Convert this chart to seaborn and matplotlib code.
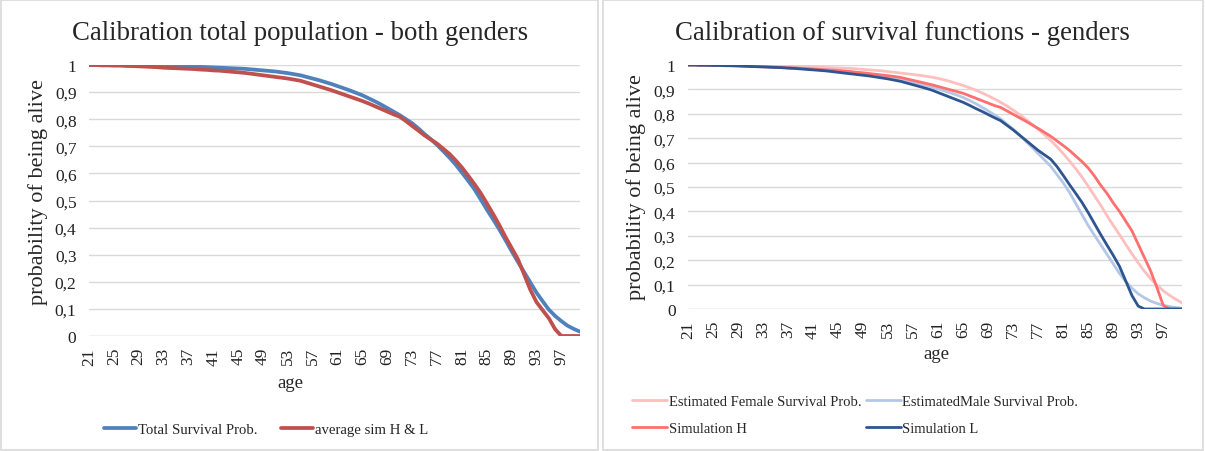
import seaborn as sns
import matplotlib.pyplot as plt
import pandas as pd
from matplotlib.patches import Rectangle

# ages 21..100
ages = list(range(21, 101))

# left chart: total population
total_surv = [
    1.000, 1.000, 0.999, 0.999, 0.999, 0.999, 0.998, 0.998, 0.998, 0.997,
    0.997, 0.996, 0.996, 0.995, 0.995, 0.994, 0.994, 0.993, 0.993, 0.992,
    0.991, 0.990, 0.989, 0.988, 0.987, 0.986, 0.984, 0.982, 0.980, 0.978,
    0.976, 0.973, 0.970, 0.966, 0.962, 0.956, 0.950, 0.944, 0.937, 0.930,
    0.922, 0.914, 0.906, 0.897, 0.888, 0.877, 0.866, 0.854, 0.841, 0.828,
    0.815, 0.800, 0.785, 0.766, 0.745, 0.726, 0.705, 0.682, 0.658, 0.632,
    0.603, 0.573, 0.542, 0.505, 0.467, 0.431, 0.394, 0.354, 0.313, 0.274,
    0.236, 0.198, 0.160, 0.128, 0.097, 0.074, 0.055, 0.038, 0.026, 0.016]
avg_sim = [
    1.000, 1.000, 0.999, 0.999, 0.998, 0.998, 0.997, 0.996, 0.995, 0.994,
    0.993, 0.992, 0.990, 0.989, 0.988, 0.987, 0.986, 0.985, 0.983, 0.982,
    0.980, 0.979, 0.977, 0.975, 0.973, 0.971, 0.968, 0.965, 0.962, 0.959,
    0.956, 0.953, 0.950, 0.946, 0.942, 0.935, 0.928, 0.921, 0.914, 0.907,
    0.899, 0.891, 0.883, 0.875, 0.867, 0.858, 0.848, 0.838, 0.828, 0.818,
    0.809, 0.793, 0.775, 0.758, 0.740, 0.725, 0.710, 0.691, 0.672, 0.648,
    0.622, 0.592, 0.561, 0.528, 0.490, 0.451, 0.410, 0.366, 0.325, 0.284,
    0.228, 0.171, 0.125, 0.095, 0.065, 0.025, 0.000, 0.000, 0.000, 0.000]

# right chart: genders
female_est = [
    1.000, 1.000, 1.000, 0.999, 0.999, 0.999, 0.999, 0.998, 0.998, 0.998,
    0.997, 0.997, 0.997, 0.996, 0.996, 0.995, 0.995, 0.994, 0.994, 0.993,
    0.992, 0.991, 0.990, 0.989, 0.988, 0.987, 0.986, 0.984, 0.982, 0.980,
    0.978, 0.976, 0.973, 0.970, 0.967, 0.964, 0.961, 0.958, 0.954, 0.950,
    0.945, 0.939, 0.932, 0.924, 0.916, 0.907, 0.897, 0.886, 0.874, 0.861,
    0.847, 0.832, 0.815, 0.797, 0.778, 0.757, 0.737, 0.715, 0.691, 0.665,
    0.637, 0.607, 0.575, 0.541, 0.503, 0.464, 0.425, 0.383, 0.343, 0.305,
    0.265, 0.226, 0.189, 0.154, 0.124, 0.098, 0.075, 0.056, 0.040, 0.025]
male_est = [
    1.000, 1.000, 0.999, 0.999, 0.999, 0.998, 0.998, 0.997, 0.997, 0.996,
    0.995, 0.995, 0.994, 0.993, 0.992, 0.991, 0.990, 0.989, 0.987, 0.985,
    0.984, 0.982, 0.981, 0.979, 0.978, 0.975, 0.972, 0.969, 0.966, 0.962,
    0.958, 0.954, 0.950, 0.945, 0.940, 0.935, 0.929, 0.923, 0.917, 0.910,
    0.902, 0.894, 0.886, 0.877, 0.867, 0.855, 0.842, 0.827, 0.812, 0.796,
    0.779, 0.758, 0.737, 0.713, 0.688, 0.663, 0.637, 0.611, 0.585, 0.551,
    0.517, 0.478, 0.433, 0.387, 0.342, 0.302, 0.264, 0.224, 0.185, 0.146,
    0.113, 0.085, 0.062, 0.046, 0.032, 0.023, 0.015, 0.010, 0.006, 0.003]
sim_h = [
    1.000, 1.000, 0.999, 0.999, 0.999, 0.998, 0.998, 0.997, 0.997, 0.996,
    0.995, 0.994, 0.993, 0.992, 0.991, 0.990, 0.989, 0.988, 0.986, 0.985,
    0.983, 0.982, 0.980, 0.979, 0.977, 0.975, 0.973, 0.970, 0.968, 0.965,
    0.962, 0.959, 0.956, 0.953, 0.949, 0.943, 0.937, 0.931, 0.925, 0.919,
    0.912, 0.905, 0.898, 0.891, 0.884, 0.874, 0.864, 0.854, 0.844, 0.834,
    0.826, 0.812, 0.798, 0.784, 0.770, 0.755, 0.740, 0.724, 0.708, 0.689,
    0.670, 0.650, 0.627, 0.604, 0.578, 0.545, 0.507, 0.474, 0.435, 0.400,
    0.360, 0.320, 0.265, 0.210, 0.155, 0.087, 0.015, 0.000, 0.000, 0.000]
sim_l = [
    1.000, 1.000, 0.999, 0.999, 0.998, 0.998, 0.997, 0.997, 0.996, 0.995,
    0.994, 0.993, 0.992, 0.991, 0.990, 0.989, 0.987, 0.986, 0.984, 0.982,
    0.980, 0.978, 0.976, 0.973, 0.970, 0.967, 0.964, 0.961, 0.958, 0.955,
    0.951, 0.947, 0.943, 0.938, 0.933, 0.926, 0.919, 0.912, 0.905, 0.897,
    0.887, 0.877, 0.867, 0.857, 0.847, 0.835, 0.822, 0.810, 0.797, 0.784,
    0.772, 0.753, 0.734, 0.713, 0.692, 0.671, 0.650, 0.632, 0.614, 0.584,
    0.548, 0.510, 0.474, 0.437, 0.395, 0.350, 0.305, 0.262, 0.220, 0.175,
    0.115, 0.055, 0.012, 0.000, 0.000, 0.000, 0.000, 0.000, 0.000, 0.000]

age_ticks = list(range(21, 101, 4))
y_ticks = [i / 10 for i in range(11)]
y_labels = ['0', '0,1', '0,2', '0,3', '0,4', '0,5', '0,6', '0,7', '0,8', '0,9', '1']

sns.set_style('white')
plt.rcParams['font.family'] = ['Liberation Serif', 'DejaVu Serif']

W, H = 1205, 452
fig = plt.figure(figsize=(W / 100, H / 100), dpi=100)

# panel borders
for x0, x1 in [(1, 598), (603, 1203)]:
    fig.patches.append(Rectangle((x0 / W, 1 / H), (x1 - x0) / W, (H - 2) / H,
                                 transform=fig.transFigure, fill=False,
                                 edgecolor='#d9d9d9', linewidth=1.2))


def make_ax(px_left, px_right, px_top, px_bottom):
    return fig.add_axes([px_left / W, (H - px_bottom) / H,
                         (px_right - px_left) / W, (px_bottom - px_top) / H])


def style_ax(ax):
    ax.set_xlim(21, 100)
    ax.set_ylim(0, 1)
    ax.set_yticks(y_ticks)
    ax.set_yticklabels(y_labels)
    ax.set_xticks(age_ticks)
    ax.set_xticklabels([str(a) for a in age_ticks], rotation=90)
    ax.tick_params(axis='both', length=0, labelsize=12.5, colors='#222222')
    ax.tick_params(axis='y', pad=9)
    ax.tick_params(axis='x', pad=8)
    ax.grid(axis='y', color='#d9d9d9', linewidth=1)
    ax.set_axisbelow(True)
    for s in ax.spines.values():
        s.set_visible(False)
    ax.axhline(0, color='#d9d9d9', linewidth=1, zorder=0)


# left chart
df_left = pd.DataFrame({'age': ages, 'total': total_surv, 'avg': avg_sim})
ax1 = make_ax(89, 580, 66, 337)
sns.lineplot(data=df_left, x='age', y='total', ax=ax1, color='#4f81bd',
             linewidth=2.7, label='Total Survival Prob.')
sns.lineplot(data=df_left, x='age', y='avg', ax=ax1, color='#c0504d',
             linewidth=2.7, label='average sim H & L')
style_ax(ax1)
ax1.set_xlabel('age', fontsize=13.5)
ax1.set_ylabel('probability of being alive', fontsize=16)
ax1.xaxis.set_label_coords(0.41, -0.14)
ax1.yaxis.set_label_coords(-0.083, 0.535)
ax1.legend(loc='center', bbox_to_anchor=(266 / W, (H - 430) / H),
           bbox_transform=fig.transFigure, ncol=2, frameon=False,
           fontsize=10.6, handlelength=2.2, handletextpad=0.1,
           columnspacing=1.6)
fig.text(300 / W, 1 - 34 / H, 'Calibration total population - both genders',
         ha='center', va='center', fontsize=19.3)

# right chart
df_right = pd.DataFrame({'age': ages, 'female': female_est, 'male': male_est,
                         'sim_h': sim_h, 'sim_l': sim_l})
ax2 = make_ax(688, 1182, 66, 310)
sns.lineplot(data=df_right, x='age', y='female', ax=ax2, color='#ffbfbf',
             linewidth=2, label='Estimated Female Survival Prob.')
sns.lineplot(data=df_right, x='age', y='male', ax=ax2, color='#b4c7e7',
             linewidth=2, label='EstimatedMale Survival Prob.')
sns.lineplot(data=df_right, x='age', y='sim_h', ax=ax2, color='#ff6f6f',
             linewidth=2, label='Simulation H')
sns.lineplot(data=df_right, x='age', y='sim_l', ax=ax2, color='#2f5590',
             linewidth=2, label='Simulation L')
style_ax(ax2)
ax2.set_xlabel('age', fontsize=13.5)
ax2.set_ylabel('probability of being alive', fontsize=16)
ax2.xaxis.set_label_coords(0.502, -0.148)
ax2.yaxis.set_label_coords(-0.085, 0.502)
h, l = ax2.get_legend_handles_labels()
order = [0, 2, 1, 3]
ax2.legend([h[i] for i in order], [l[i] for i in order], loc='center',
           bbox_to_anchor=(855 / W, (H - 416) / H),
           bbox_transform=fig.transFigure, ncol=2, frameon=False,
           fontsize=10.5, handlelength=2.4, handletextpad=0.1,
           columnspacing=0.3, labelspacing=0.9)
fig.text(902 / W, 1 - 34 / H, 'Calibration of survival functions - genders',
         ha='center', va='center', fontsize=19.3)

fig.savefig('out.png', dpi=100)
